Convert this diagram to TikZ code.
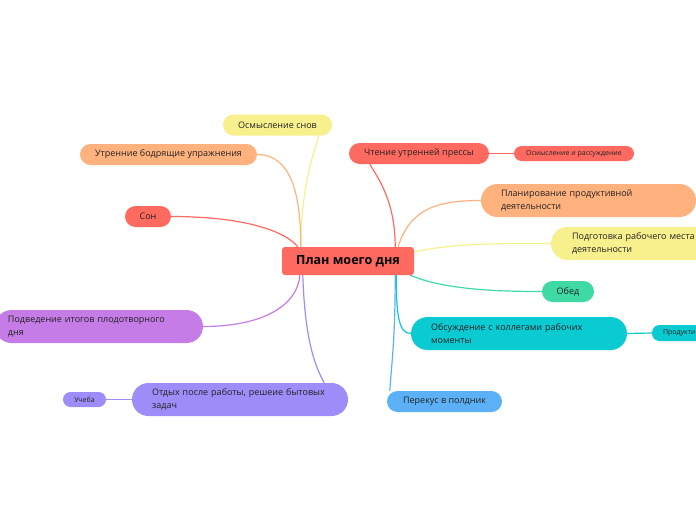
\documentclass[tikz,border=0pt]{standalone}
\usepackage{fontspec}
\setmainfont{Open Sans}
\usetikzlibrary{calc,backgrounds}
\definecolor{cred}{HTML}{FF6A60}
\definecolor{cyel}{HTML}{F7F08C}
\definecolor{corg}{HTML}{FFB27E}
\definecolor{cpur}{HTML}{C67CE6}
\definecolor{clav}{HTML}{9E8CF8}
\definecolor{cgrn}{HTML}{3FD9A4}
\definecolor{ccyn}{HTML}{0ACAD2}
\definecolor{cblu}{HTML}{5CB0F6}
\definecolor{ctxt}{HTML}{222222}
\begin{document}
\begin{tikzpicture}[x=1pt,y=-1pt,
  box/.style={inner sep=0pt, text=ctxt, font=\fontsize{9}{13}\selectfont},
  pillS/.style={box, minimum height=21pt, rounded corners=10.5pt},
  pillL/.style={box, minimum height=33pt, rounded corners=16.5pt, align=left},
  pillXS/.style={box, minimum height=15pt, rounded corners=7.5pt, font=\fontsize{7}{8}\selectfont},
  conn/.style={line width=1.2pt}]
\useasboundingbox (0,0) rectangle (696,520);
\clip (0,0) rectangle (696,520);
% central
\node[box, fill=cred, minimum width=132pt, minimum height=28pt, rounded corners=3pt,
  font=\fontsize{12.6}{14}\selectfont\bfseries, text=black] (plan) at (348,261) {План моего дня};
% left side
\node[pillS, fill=cyel, minimum width=109pt] (snov) at (277.5,125) {Осмысление снов};
\node[pillS, fill=corg, minimum width=177pt] (utr) at (168.5,154.5) {Утренние бодрящие упражнения};
\node[pillS, fill=cred, minimum width=46pt] (son) at (148,216.5) {Сон};
\node[pillL, fill=cpur, text width=182pt, inner xsep=13pt] (podv) at (99,326.5) {Подведение итогов плодотворного\\дня};
\node[pillL, fill=clav, text width=176pt, inner xsep=20pt] (otdyh) at (240,399.5) {Отдых после работы, решеие бытовых\\задач};
\node[pillXS, fill=clav, minimum width=43pt] (ucheba) at (84.5,399.5) {Учеба};
% right side
\node[pillS, fill=cred, minimum width=140pt] (chten) at (419,153.5) {Чтение утренней прессы};
\node[pillXS, fill=cred, minimum width=120pt] (osmr) at (574,153.5) {Осмысление и рассуждение};
\node[pillL, fill=corg, text width=175pt, inner xsep=20pt] (plann) at (588.5,200.5) {Планирование продуктивной\\деятельности};
\node[pillL, fill=cyel, text width=173pt, inner xsep=21pt] (podg) at (658.5,243.5) {Подготовка рабочего места\\деятельности};
\node[pillS, fill=cgrn, minimum width=52pt] (obed) at (568,291.5) {Обед};
\node[pillL, fill=ccyn, text width=176pt, inner xsep=20pt] (obsuzh) at (519,333.5) {Обсуждение с коллегами рабочих\\моменты};
\node[pillXS, fill=ccyn, minimum width=110pt, minimum height=16pt, text width=88pt, inner xsep=11pt, align=left] (prod) at (707,333) {Продуктивность};
\node[pillS, fill=cblu, minimum width=115pt] (perek) at (444.5,401.5) {Перекус в полдник};
% connectors
\begin{scope}[on background layer]
\coordinate (tl) at ($(plan.north west)+(19,0)$);
\coordinate (bl) at ($(plan.south west)+(19,0)$);
\coordinate (tr) at ($(plan.north east)+(-19,0)$);
\coordinate (br) at ($(plan.south east)+(-19,0)$);
\draw[conn, cyel] (tl) .. controls ($(tl)+(0,-55)$) and ($(snov.south east)+(-20,20)$) .. ($(snov.south east)+(-13,0)$);
\draw[conn, corg] (utr.east) .. controls ($(utr.east)+(35,0)$) and ($(tl)+(0,-50)$) .. (tl);
\draw[conn, cred] (son.east) .. controls ($(son.east)+(75,0)$) and ($(tl)+(-15,-15)$) .. ($(tl)+(-3,0)$);
\draw[conn, cpur] (podv.east) .. controls ($(podv.east)+(60,0)$) and ($(bl)+(-3,30)$) .. ($(bl)+(-1,0)$);
\draw[conn, clav] ($(bl)+(2,0)$) .. controls ($(bl)+(4,60)$) and ($(otdyh.north east)+(-35,-20)$) .. ($(otdyh.north east)+(-24,0)$);
\draw[conn, cred] (tr) .. controls ($(tr)+(0,-45)$) and ($(chten.south west)+(30,15)$) .. ($(chten.south west)+(21,0)$);
\draw[conn, corg] ($(tr)+(3,0)$) .. controls ($(tr)+(15,-40)$) and ($(plann.west)+(-40,0)$) .. (plann.west);
\draw[conn, cyel] ($(plan.east)+(0,-9)$) .. controls ($(plan.east)+(40,-18)$) and ($(podg.west)+(-50,0)$) .. (podg.west);
\draw[conn, cgrn] ($(br)+(15,0)$) .. controls ($(br)+(50,15)$) and ($(obed.west)+(-40,0)$) .. (obed.west);
\draw[conn, ccyn] ($(br)+(1,0)$) .. controls ($(br)+(1,40)$) and ($(obsuzh.west)+(-12,0)$) .. (obsuzh.west);
\draw[conn, cblu] (br) .. controls ($(br)+(0,65)$) and ($(perek.north west)+(5,-30)$) .. ($(perek.north west)+(3,0)$);
\draw[conn, cred] (chten.east) -- (osmr.west);
\draw[conn, ccyn] (obsuzh.east) -- (prod.west);
\draw[conn, clav] (ucheba.east) -- (otdyh.west);
\end{scope}
\end{tikzpicture}
\end{document}
